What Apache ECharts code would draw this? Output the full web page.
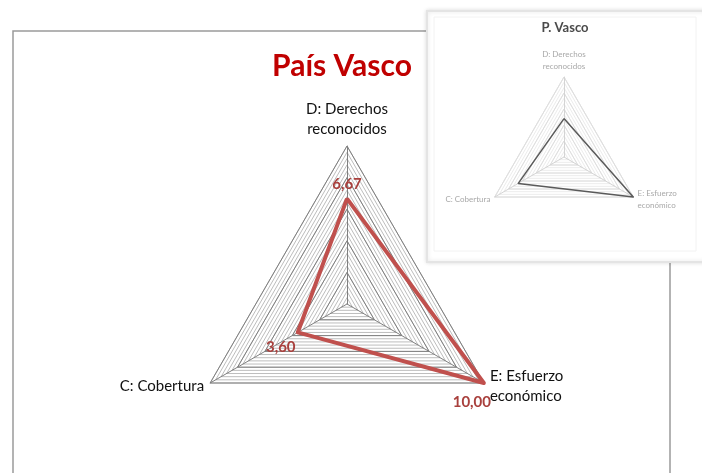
<!DOCTYPE html>
<html>
<head>
<meta charset="utf-8">
<script src="https://cdn.jsdelivr.net/npm/echarts@6/dist/echarts.min.js"></script>
<style>
  html, body { margin: 0; padding: 0; background: #fff; }
  #chart { width: 702px; height: 473px; }
</style>
</head>
<body>
<div id="chart"></div>
<script>
// main chart
const indicators = ['D: Derechos\nreconocidos', 'C: Cobertura', 'E: Esfuerzo\neconómico'];
const values = [6.67, 3.60, 10.00];
const maxValue = 10;

// thumbnail in the corner
const thumbIndicators = ['D: Derechos\nreconocidos', 'C: Cobertura', 'E: Esfuerzo\neconómico'];
const thumbValues = [4.8, 6.6, 10];

// label placement per point (rich style name)
const labelStyleKeys = ['d', 'c', 'e'];

const fmt = v => v.toFixed(2).replace('.', ',');

const elem = document.getElementById('chart');
const myChart = echarts.init(elem, null, {renderer: 'canvas'});

const labelBase = {color: '#A9403D', fontWeight: 'bold', fontSize: 15, fontFamily: 'Lato'};

myChart.setOption({
    backgroundColor: '#fff',
    animation: false,
    graphic: [
        {
            type: 'rect', z: -10,
            shape: {x: 13, y: 31, width: 657, height: 460},
            style: {fill: '#fff', stroke: '#9a9a9a', lineWidth: 1.5}
        },
        {
            type: 'text', z: 5,
            x: 342, y: 66,
            style: {
                text: 'País Vasco', fill: '#C00000', font: 'bold 30px Lato',
                textAlign: 'center', textVerticalAlign: 'middle'
            }
        },
        {
            type: 'rect', z: 50,
            shape: {x: 427, y: 11, width: 280, height: 251},
            style: {fill: '#fff', stroke: '#e4e4e4', lineWidth: 2,
                shadowBlur: 4, shadowColor: 'rgba(0,0,0,0.12)'}
        },
        {
            type: 'rect', z: 51,
            shape: {x: 434, y: 17, width: 262, height: 234},
            style: {fill: 'none', stroke: '#f2f2f2', lineWidth: 1}
        },
        {
            type: 'text', z: 52,
            x: 565, y: 28,
            style: {
                text: 'P. Vasco', fill: '#4a4a4a', font: 'bold 13px Lato',
                textAlign: 'center', textVerticalAlign: 'middle'
            }
        }
    ],
    radar: [
        // fine hatch rings
        {
            center: [347, 304], radius: 158, shape: 'polygon', z: 1,
            splitNumber: 25,
            indicator: indicators.map(n => ({name: n, max: maxValue})),
            axisName: {show: false},
            axisLine: {show: false},
            axisTick: {show: false},
            axisLabel: {show: false},
            splitArea: {show: false},
            splitLine: {lineStyle: {color: '#bdbdbd', width: 1}}
        },
        // main rings
        {
            center: [347, 304], radius: 158, shape: 'polygon', z: 2,
            splitNumber: 5,
            nameGap: 7,
            indicator: indicators.map(n => ({name: n, max: maxValue})),
            axisName: {color: '#111', fontSize: 15, fontFamily: 'Lato', lineHeight: 20},
            axisLine: {lineStyle: {color: '#808080', width: 1}},
            axisTick: {show: false},
            axisLabel: {show: false},
            splitArea: {show: false},
            splitLine: {lineStyle: {color: '#808080', width: 1}}
        },
        // thumbnail hatch
        {
            center: [564, 157], radius: 80, shape: 'polygon', z: 55,
            splitNumber: 15,
            indicator: thumbIndicators.map(n => ({name: n, max: maxValue})),
            axisName: {show: false},
            axisLine: {show: false},
            axisTick: {show: false},
            axisLabel: {show: false},
            splitArea: {show: false},
            splitLine: {lineStyle: {color: '#ececec', width: 1}}
        },
        // thumbnail rings
        {
            center: [564, 157], radius: 80, shape: 'polygon', z: 56,
            splitNumber: 5,
            nameGap: 5,
            indicator: thumbIndicators.map(n => ({name: n, max: maxValue})),
            axisName: {color: '#a8a8a8', fontSize: 8, fontFamily: 'Lato', lineHeight: 12},
            axisLine: {lineStyle: {color: '#d4d4d4', width: 1}},
            axisTick: {show: false},
            axisLabel: {show: false},
            splitArea: {show: false},
            splitLine: {lineStyle: {color: '#dedede', width: 1}}
        }
    ],
    series: [
        {
            type: 'radar', radarIndex: 1, z: 10,
            symbol: 'circle', symbolSize: 2,
            itemStyle: {color: '#C0504D'},
            lineStyle: {color: '#C0504D', width: 4},
            data: [{value: values}],
            label: {
                show: true,
                position: 'inside',
                formatter: p => {
                    const i = values.indexOf(p.value);
                    return '{' + labelStyleKeys[i] + '|' + fmt(p.value) + '}';
                },
                rich: {
                    d: Object.assign({padding: [0, 0, 29, 0]}, labelBase),
                    c: Object.assign({padding: [30, 34, 0, 0]}, labelBase),
                    e: Object.assign({padding: [38, 24, 0, 0]}, labelBase)
                }
            }
        },
        {
            type: 'radar', radarIndex: 3, z: 60,
            symbol: 'none',
            lineStyle: {color: '#5a5a5a', width: 1.5},
            data: [{value: thumbValues}]
        }
    ]
});
</script>
</body>
</html>
